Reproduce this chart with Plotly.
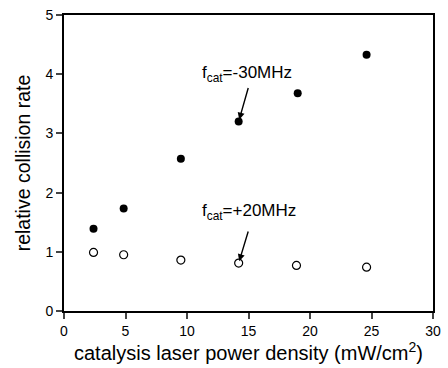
import plotly.graph_objects as go

power_neg30 = [2.4, 4.85, 9.5, 14.2, 19.0, 24.6]
rate_neg30 = [1.39, 1.73, 2.57, 3.20, 3.68, 4.33]
power_pos20 = [2.4, 4.85, 9.5, 14.2, 18.9, 24.6]
rate_pos20 = [0.99, 0.95, 0.86, 0.81, 0.77, 0.74]

x_ticks = [0, 5, 10, 15, 20, 25, 30]
y_ticks = [0, 1, 2, 3, 4, 5]

fig = go.Figure()
fig.add_trace(go.Scatter(x=power_neg30, y=rate_neg30, mode="markers",
                         marker=dict(size=8, color="black", symbol="circle"),
                         showlegend=False))
fig.add_trace(go.Scatter(x=power_pos20, y=rate_pos20, mode="markers",
                         marker=dict(size=8, color="white", symbol="circle",
                                     line=dict(color="black", width=1.2)),
                         showlegend=False))

font = "Liberation Sans, Arial, sans-serif"
fig.add_annotation(x=14.2, y=3.2, ax=10, ay=-35,
                   text="", showarrow=True, arrowhead=2, arrowsize=1, arrowwidth=1.4,
                   arrowcolor="black", standoff=2)
fig.add_annotation(x=14.2, y=0.81, ax=10, ay=-33,
                   text="", showarrow=True, arrowhead=2, arrowsize=1, arrowwidth=1.4,
                   arrowcolor="black", standoff=2)
fig.add_annotation(x=14.9, y=4.0, xanchor="center", yanchor="middle", showarrow=False,
                   text="f<sub>cat</sub>=-30MHz", font=dict(family=font, size=17, color="black"))
fig.add_annotation(x=15.0, y=1.67, xanchor="center", yanchor="middle", showarrow=False,
                   text="f<sub>cat</sub>=+20MHz", font=dict(family=font, size=17, color="black"))

fig.update_layout(
    width=448, height=368,
    margin=dict(l=64, r=7, t=14, b=57),
    paper_bgcolor="white", plot_bgcolor="white",
    font=dict(family=font, color="black"),
    xaxis=dict(range=[0, 30], tickvals=x_ticks, ticks="outside", ticklen=6, tickwidth=1.5,
               showline=True, linecolor="black", linewidth=2, mirror=True, showgrid=False,
               zeroline=False, tickfont=dict(size=14, family=font),
               title=dict(text="catalysis laser power density (mW/cm<sup>2</sup>)",
                          font=dict(size=20, family=font), standoff=2)),
    yaxis=dict(range=[0, 5], tickvals=y_ticks, ticks="outside", ticklen=6, tickwidth=1.5,
               showline=True, linecolor="black", linewidth=2, mirror=True, showgrid=False,
               zeroline=False, tickfont=dict(size=14, family=font),
               title=dict(text="relative collision rate", font=dict(size=19.5, family=font),
                          standoff=10)),
)
fig.write_html("out.html")
